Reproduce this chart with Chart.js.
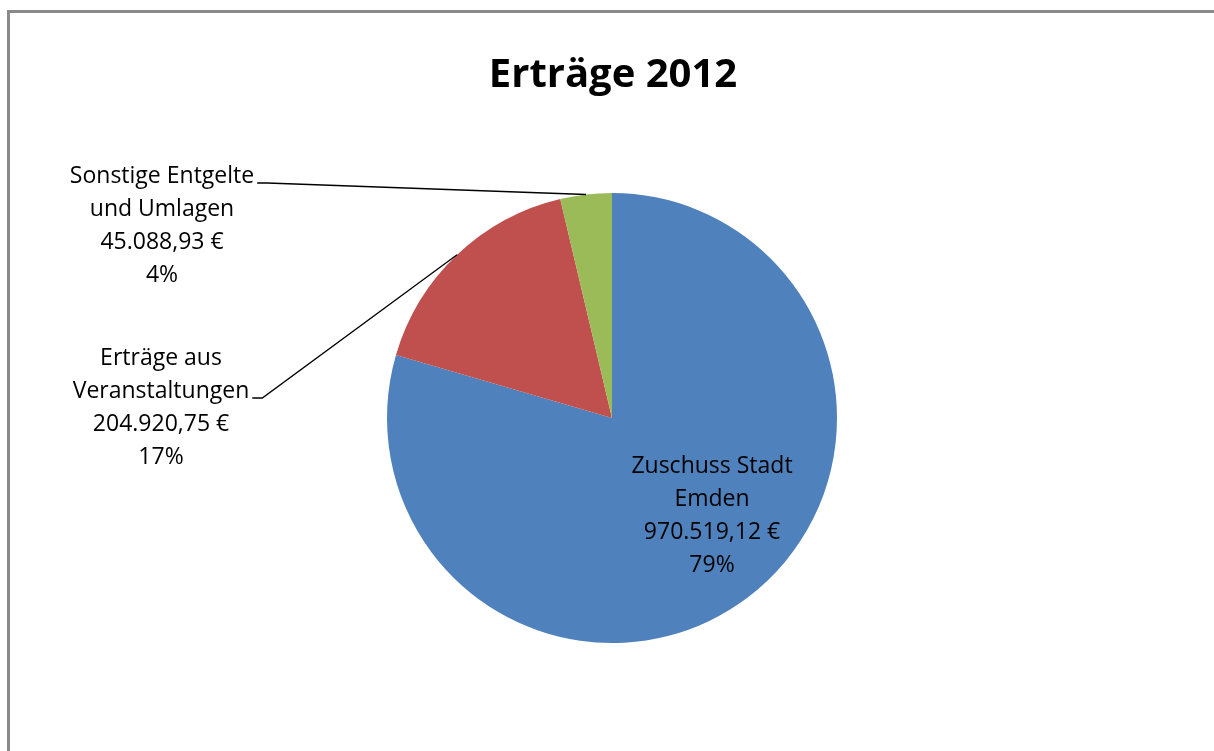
<!DOCTYPE html>
<html>
<head>
<meta charset="utf-8">
<script src="https://cdn.jsdelivr.net/npm/chart.js@4.4.0/dist/chart.umd.min.js"></script>
<style>
  html, body { margin: 0; padding: 0; background: #fff; overflow: hidden; }
  #wrap { width: 1214px; height: 751px; position: relative; }
</style>
</head>
<body>
<div id="wrap"><canvas id="chart"></canvas></div>
<script>
// Erträge 2012 - pie
const titleText = 'Erträge 2012';
const categories = ['Zuschuss Stadt Emden', 'Erträge aus Veranstaltungen', 'Sonstige Entgelte und Umlagen'];
const labelLines = [['Zuschuss Stadt', 'Emden'], ['Erträge aus', 'Veranstaltungen'], ['Sonstige Entgelte', 'und Umlagen']];
const values = [970519.12, 204920.75, 45088.93];
const colors = ['#4F81BD', '#C0504D', '#9BBB59'];

const FONT = '"Open Sans", "DejaVu Sans", sans-serif';

function euro(v) {
    const parts = v.toFixed(2).split('.');
    const int = parts[0].replace(/\B(?=(\d{3})+(?!\d))/g, '.');
    return int + ',' + parts[1] + ' €';
}

// percentages rounded so they add up to 100 (as the office chart does)
function percents(vals) {
    const total = vals.reduce((a, b) => a + b, 0);
    const raw = vals.map(v => v / total * 100);
    const out = raw.map(Math.floor);
    let left = 100 - out.reduce((a, b) => a + b, 0);
    const order = raw.map((r, i) => [r - Math.floor(r), i]).sort((a, b) => b[0] - a[0]);
    for (let k = 0; k < left; k++) out[order[k][1]]++;
    return out;
}

// where each label block sits (centre x, first line y) and whether it gets a leader line
const labelPos = [
    { x: 712, y: 466, leader: false },
    { x: 161, y: 358, leader: true, lineIdx: 1 },
    { x: 162, y: 176, leader: true, lineIdx: 0 }
];

const piePlugin = {
    id: 'excelLook',
    beforeDraw(chart) {
        const c = chart.ctx;
        c.save();
        c.fillStyle = '#fff';
        c.fillRect(0, 0, chart.width, chart.height);
        // frame
        c.strokeStyle = '#8a8a8a';
        c.lineWidth = 3;
        c.beginPath();
        c.moveTo(8.5, chart.height);
        c.lineTo(8.5, 11.5);
        c.lineTo(chart.width, 11.5);
        c.stroke();
        // title
        c.fillStyle = '#000';
        c.font = 'bold 40px ' + FONT;
        c.textAlign = 'center';
        c.textBaseline = 'middle';
        c.fillText(titleText, 613, 76);
        c.restore();
    },
    afterDatasetsDraw(chart) {
        const c = chart.ctx;
        const meta = chart.getDatasetMeta(0);
        const pct = percents(values);
        c.save();
        c.font = '23px ' + FONT;
        c.fillStyle = '#000';
        c.textAlign = 'center';
        c.textBaseline = 'middle';
        values.forEach((v, i) => {
            const pos = labelPos[i];
            const lines = labelLines[i].concat([euro(v), pct[i] + '%']);
            lines.forEach((t, k) => c.fillText(t, pos.x, pos.y + k * 33));
            if (pos.leader) {
                const arc = meta.data[i];
                const mid = (arc.startAngle + arc.endAngle) / 2;
                const px = arc.x + Math.cos(mid) * arc.outerRadius;
                const py = arc.y + Math.sin(mid) * arc.outerRadius;
                const w = c.measureText(lines[pos.lineIdx]).width;
                const sx = pos.x + w / 2 + 3;
                const sy = pos.y + pos.lineIdx * 33 + 7;
                c.strokeStyle = '#000';
                c.lineWidth = 1.3;
                c.beginPath();
                c.moveTo(sx, sy);
                c.lineTo(sx + 10, sy);
                c.lineTo(px, py);
                c.stroke();
            }
        });
        c.restore();
    }
};

new Chart(document.getElementById('chart'), {
    type: 'pie',
    data: {
        labels: categories,
        datasets: [{
            data: values,
            backgroundColor: colors,
            borderWidth: 0
        }]
    },
    options: {
        responsive: true,
        maintainAspectRatio: false,
        animation: false,
        devicePixelRatio: 1,
        layout: { padding: { left: 387, right: 377, top: 193, bottom: 108 } },
        plugins: {
            legend: { display: false },
            title: { display: false },
            tooltip: { enabled: false }
        }
    },
    plugins: [piePlugin]
});
</script>
</body>
</html>
